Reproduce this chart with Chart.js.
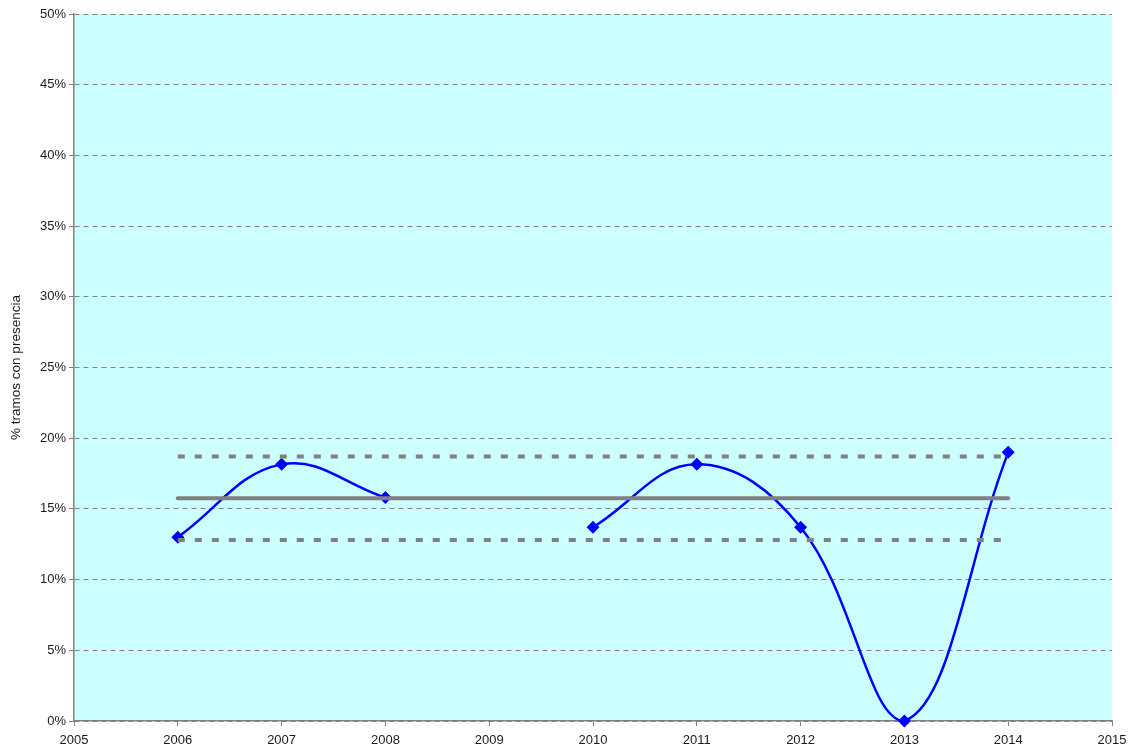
<!DOCTYPE html>
<html>
<head>
<meta charset="utf-8">
<script src="https://cdn.jsdelivr.net/npm/chart.js@4/dist/chart.umd.min.js"></script>
<style>
  html, body { margin: 0; padding: 0; background: #ffffff; }
  #wrap { width: 1136px; height: 753px; }
</style>
</head>
<body>
<div id="wrap"><canvas id="c" width="1136" height="753"></canvas></div>
<script>
// Data
const years = [2006, 2007, 2008, 2009, 2010, 2011, 2012, 2013, 2014];
const presence = [13.0, 18.15, 15.8, null, 13.7, 18.15, 13.7, 0.0, 19.0];
const meanValue = 15.75;
const upperValue = 18.7;
const lowerValue = 12.8;
const refYears = [2006, 2014];
const yTicks = [0, 5, 10, 15, 20, 25, 30, 35, 40, 45, 50];
const xRange = [2005, 2015];
const yTitle = '% tramos con presencia';

const seriesPts = years.map((x, i) => ({ x: x, y: presence[i] }));
const refLine = v => refYears.map(x => ({ x: x, y: v }));

const bgPlugin = {
  id: 'bg',
  beforeDraw(chart) {
    const { ctx, chartArea: a } = chart;
    ctx.save();
    ctx.fillStyle = '#CCFFFF';
    ctx.fillRect(a.left, a.top, a.right - a.left, a.bottom - a.top);
    ctx.restore();
  }
};

new Chart(document.getElementById('c'), {
  type: 'line',
  data: {
    datasets: [
      { label: 'upper', data: refLine(upperValue), borderColor: '#808080', borderWidth: 4,
        borderDash: [7, 10], pointRadius: 0, tension: 0, fill: false, borderCapStyle: 'butt' },
      { label: 'lower', data: refLine(lowerValue), borderColor: '#808080', borderWidth: 4,
        borderDash: [7, 10], pointRadius: 0, tension: 0, fill: false, borderCapStyle: 'butt' },
      { label: 'mean', data: refLine(meanValue), borderColor: '#808080', borderWidth: 4,
        pointRadius: 0, tension: 0, fill: false, borderCapStyle: 'round' },
      { label: 'presence', data: seriesPts, borderColor: '#0000FF', borderWidth: 2.5,
        backgroundColor: '#0000FF', pointStyle: 'rectRot', pointRadius: 6.5,
        pointBorderWidth: 0, pointBackgroundColor: '#0000FF', tension: 0.4,
        spanGaps: false, fill: false, clip: false }
    ]
  },
  options: {
    responsive: false,
    animation: false,
    layout: { padding: { top: 14, right: 24, left: 0, bottom: 0 } },
    plugins: { legend: { display: false }, tooltip: { enabled: false } },
    scales: {
      x: {
        type: 'linear',
        min: xRange[0], max: xRange[1],
        afterBuildTicks(scale) { scale.ticks = []; for (let y = xRange[0]; y <= xRange[1]; y++) scale.ticks.push({ value: y }); },
        ticks: { color: '#1a1a1a', font: { family: 'Liberation Sans', size: 13 }, padding: 7,
                 callback: v => String(v), maxRotation: 0, autoSkip: false },
        grid: { drawOnChartArea: false, drawTicks: true, tickLength: 5, color: '#808080', tickColor: '#808080' },
        border: { display: true, color: '#808080', width: 1.5 },
        afterFit(scale) { scale.height = 32; }
      },
      y: {
        type: 'linear',
        min: 0, max: 50,
        afterBuildTicks(scale) { scale.ticks = yTicks.map(v => ({ value: v })); },
        ticks: { color: '#1a1a1a', font: { family: 'Liberation Sans', size: 13 }, padding: 3,
                 callback: v => v + '%' },
        grid: { drawOnChartArea: true, drawTicks: true, tickLength: 5, color: '#808080',
                tickColor: '#808080', tickBorderDash: [], lineWidth: 1 },
        border: { display: true, color: '#808080', width: 1.5, dash: [5, 4] },
        title: { display: true, text: yTitle, color: '#1a1a1a',
                 font: { family: 'Liberation Sans', size: 13.5 }, padding: { top: 8, bottom: 0 } },
        afterFit(scale) { scale.width = 74; }
      }
    }
  },
  plugins: [bgPlugin]
});
</script>
</body>
</html>
